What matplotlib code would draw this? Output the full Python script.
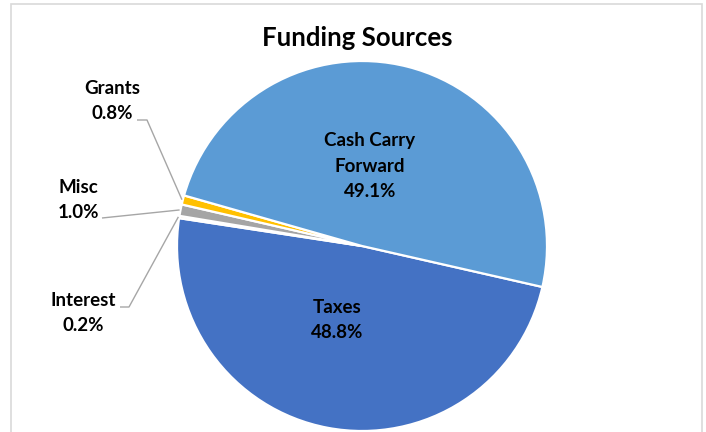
import numpy as np
import matplotlib
matplotlib.use("Agg")
import matplotlib.pyplot as plt
from matplotlib.patches import Rectangle

# ---- data ----
categories = ["Taxes", "Interest", "Misc", "Grants", "Cash Carry\nForward"]
values = [48.8, 0.2, 1.0, 0.8, 49.1]
pct_labels = ["48.8%", "0.2%", "1.0%", "0.8%", "49.1%"]
colors = ["#4472C4", "#ED7D31", "#A5A5A5", "#FFC000", "#5B9BD5"]

W, H = 706, 432
plt.rcParams['font.family'] = ['Lato', 'DejaVu Sans']

fig = plt.figure(figsize=(W / 100, H / 100), dpi=100)
ax = fig.add_axes([0, 0, 1, 1])

def py(y):
    return H - y

cx, cy, r = 362, py(246), 185
wedges, _ = ax.pie(values, colors=colors, startangle=-12.8, counterclock=False,
                   center=(cx, cy), radius=r,
                   wedgeprops=dict(edgecolor="white", linewidth=1.6))
ax.set_xlim(0, W)
ax.set_ylim(0, H)
ax.set_aspect('equal')
ax.axis('off')

# border
fig.patches.append(Rectangle((10.5 / W, -0.05), (702 - 10.5) / W, (H - 4 + 22) / H,
                             transform=fig.transFigure, fill=False,
                             edgecolor="#D9D9D9", linewidth=1.2))

fig.text(357 / W, 1 - 38 / H, "Funding Sources", ha="center", va="center",
         fontsize=18.5, fontweight="bold", color="black")

fs = 13.5
ls = 1.62
# inside labels
inside_pos = {0: (337, 320), 4: (370, 166)}
for i, (x, y) in inside_pos.items():
    ax.text(x, py(y), f"{categories[i]}\n{pct_labels[i]}", ha="center", va="center",
            fontsize=fs, fontweight="bold", color="black", linespacing=ls)

# outside labels with leader lines
outside = {
    3: dict(text=(112, 101), path=[(137, 120), (147, 120)]),
    2: dict(text=(78, 200), path=[(102, 218)]),
    1: dict(text=(83, 313), path=[(120, 307), (129, 307)]),
}
for i, d in outside.items():
    w = wedges[i]
    mid = np.deg2rad((w.theta1 + w.theta2) / 2)
    ex, ey = cx + r * 1.005 * np.cos(mid), cy + r * 1.005 * np.sin(mid)
    xs = [p[0] for p in d["path"]] + [ex]
    ys = [py(p[1]) for p in d["path"]] + [ey]
    ax.plot(xs, ys, color="#A6A6A6", linewidth=1.0, solid_capstyle="butt")
    tx, ty = d["text"]
    ax.text(tx, py(ty), f"{categories[i]}\n{pct_labels[i]}", ha="center", va="center",
            fontsize=fs, fontweight="bold", color="black", linespacing=ls)

fig.savefig("out.png", dpi=100)
